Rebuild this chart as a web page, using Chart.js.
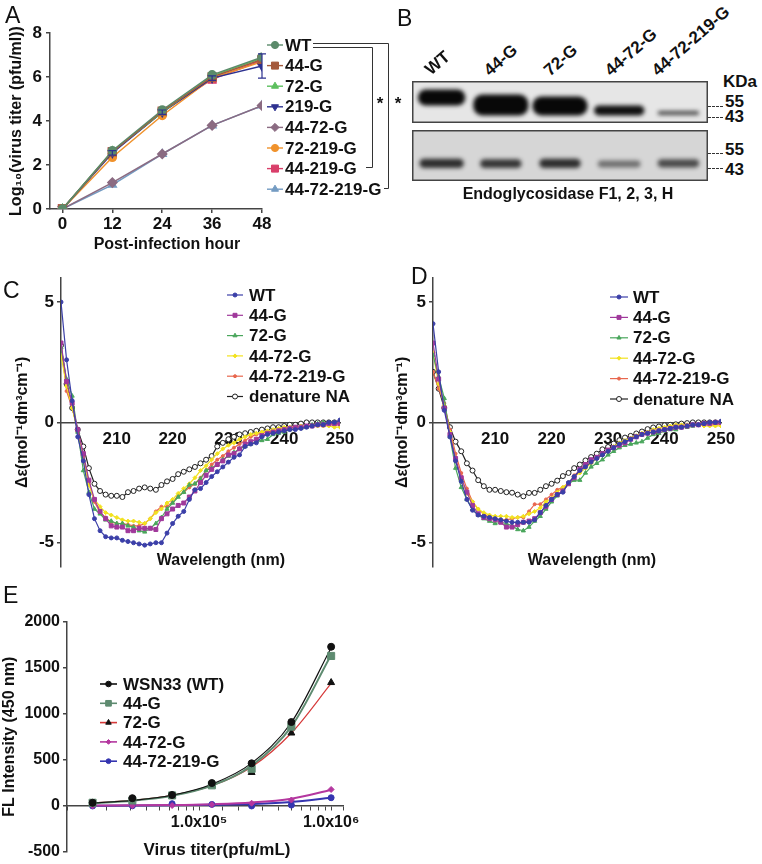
<!DOCTYPE html>
<html>
<head>
<meta charset="utf-8">
<title>NA glycosylation panels</title>
<script src="https://cdn.jsdelivr.net/npm/chart.js@4.4.1/dist/chart.umd.min.js"></script>
<style>
  body { margin: 0; width: 762px; height: 864px; position: relative; overflow: hidden; background: #fff;
         font-family: 'Liberation Sans', Arial, sans-serif; color: #111; }
  canvas { position: absolute; }
  .lbl { position: absolute; white-space: nowrap; }
  .letter { font-size: 23px; line-height: 23px; font-weight: normal; }
  .lane { font-size: 17px; line-height: 17px; font-weight: bold; transform-origin: 0 100%; transform: rotate(-41deg); }
  .kda { font-size: 17px; line-height: 17px; font-weight: bold; }
  .dash { position: absolute; width: 15px; border-top: 1px dashed #333; }
</style>
</head>
<body>

<canvas id="chartA" width="410" height="260" style="left:0;top:0"></canvas>
<canvas id="blotTop" width="296" height="42" style="left:412px;top:81px"></canvas>
<canvas id="blotBottom" width="296" height="51" style="left:412px;top:130px"></canvas>
<canvas id="chartC" width="380" height="330" style="left:0;top:250px"></canvas>
<canvas id="chartD" width="382" height="330" style="left:380px;top:250px"></canvas>
<canvas id="chartE" width="380" height="294" style="left:0;top:570px"></canvas>

<div class="lbl letter" style="left:5px;top:4px">A</div>
<div class="lbl letter" style="left:397px;top:7px">B</div>
<div class="lbl letter" style="left:3px;top:279px">C</div>
<div class="lbl letter" style="left:411px;top:265px">D</div>
<div class="lbl letter" style="left:3px;top:584px">E</div>

<div class="lbl lane" style="left:433px;top:61px">WT</div>
<div class="lbl lane" style="left:492px;top:62px">44-G</div>
<div class="lbl lane" style="left:552px;top:62px">72-G</div>
<div class="lbl lane" style="left:613px;top:62px">44-72-G</div>
<div class="lbl lane" style="left:660px;top:62px">44-72-219-G</div>

<div class="lbl kda" style="left:723px;top:73px">KDa</div>
<div class="lbl kda" style="left:725px;top:93px">55</div>
<div class="lbl kda" style="left:725px;top:108px">43</div>
<div class="lbl kda" style="left:725px;top:141px">55</div>
<div class="lbl kda" style="left:725px;top:161px">43</div>
<div class="dash" style="left:708px;top:106px"></div>
<div class="dash" style="left:708px;top:117px"></div>
<div class="dash" style="left:708px;top:153px"></div>
<div class="dash" style="left:708px;top:168px"></div>
<div class="lbl" style="left:440px;top:186px;width:256px;text-align:center;font-size:16px;line-height:16px;font-weight:bold">Endoglycosidase F1, 2, 3, H</div>

<script>
// ---------- A: growth curves ----------
const hoursA = [0, 12, 24, 36, 48];
const strainsA = ['WT', '44-G', '72-G', '219-G', '44-72-G', '72-219-G', '44-219-G', '44-72-219-G'];
const titerWT       = [0, 2.65, 4.50, 6.10, 6.90];
const titer44G      = [0, 2.60, 4.45, 6.00, 6.80];
const titer72G      = [0, 2.62, 4.40, 6.05, 6.85];
const titer219G     = [0, 2.55, 4.40, 5.95, 6.50];
const titer4472G    = [0, 1.20, 2.50, 3.80, 4.70];
const titer72219G   = [0, 2.35, 4.25, 5.95, 6.70];
const titer44219G   = [0, 2.60, 4.40, 5.90, 6.75];
const titer4472219G = [0, 1.10, 2.50, 3.80, 4.70];
const err219G       = [0, 0.10, 0.10, 0.10, 0.55];
const ticksAx = [0, 12, 24, 36, 48];
const ticksAy = [0, 2, 4, 6, 8];

// ---------- B: blot bands (position in kDa) ----------
const laneNames = ['WT', '44-G', '72-G', '44-72-G', '44-72-219-G'];
const bandLow      = [55.5, 45.5, 45.5, 45.5, 46];
const bandHigh     = [71.5, 66.5, 64.5, 55.5, 50];
const bandDensity  = [1, 1, 1, 0.97, 0.72];
const deglyLow     = [43, 43, 43, 43.5, 43.5];
const deglyHigh    = [50.5, 50, 50.5, 49, 50];
const deglyDensity = [0.82, 0.78, 0.82, 0.5, 0.68];

// ---------- C / D: CD spectra ----------
const cdNames = ['WT', '44-G', '72-G', '44-72-G', '44-72-219-G', 'denature NA'];
const wavelengthC = [200,201,202,203,204,205,206,207,208,209,210,211,212,213,214,215,216,217,218,219,220,221,222,223,224,225,226,227,228,229,230,231,232,233,234,235,236,237,238,239,240,241,242,243,244,245,246,247,248,249,250];
const cdC_WT = [5.0,2.6,0.9,-0.6,-1.6,-3.0,-4.0,-4.5,-4.75,-4.8,-4.8,-4.9,-4.95,-5.0,-5.05,-5.1,-5.05,-5.0,-5.0,-4.6,-4.2,-3.9,-3.7,-3.2,-2.8,-2.75,-2.5,-2.25,-2.05,-1.85,-1.65,-1.45,-1.35,-1.0,-0.9,-0.85,-0.6,-0.5,-0.45,-0.4,-0.35,-0.3,-0.3,-0.25,-0.2,-0.15,-0.1,-0.1,0,0,0.1];
const cdC_44G = [3.3,1.7,0.8,-0.3,-1.3,-2.4,-3.2,-3.7,-4.0,-4.3,-4.35,-4.35,-4.5,-4.5,-4.4,-4.4,-4.4,-4.45,-4.0,-3.8,-3.6,-3.45,-3.35,-3.1,-2.85,-2.5,-2.2,-1.95,-1.75,-1.6,-1.35,-1.3,-1.1,-0.9,-0.8,-0.7,-0.55,-0.45,-0.4,-0.35,-0.3,-0.25,-0.2,-0.2,-0.15,-0.15,-0.1,-0.1,-0.05,-0.05,-0.05];
const cdC_72G = [3.1,1.8,1.1,-0.4,-2.0,-2.9,-3.6,-3.8,-4.05,-4.1,-4.2,-4.2,-4.3,-4.35,-4.5,-4.55,-4.4,-4.2,-3.95,-3.6,-3.35,-3.1,-2.9,-2.6,-2.55,-2.35,-2.0,-1.9,-1.75,-1.55,-1.4,-1.25,-1.1,-1.0,-0.9,-0.8,-0.75,-0.7,-0.5,-0.45,-0.4,-0.3,-0.25,-0.25,-0.2,-0.1,-0.05,0,0,0,0];
const cdC_4472G = [2.8,1.5,0.6,-0.4,-1.6,-2.6,-3.2,-3.5,-3.75,-3.85,-3.95,-4.05,-4.1,-4.1,-4.15,-4.2,-4.0,-3.75,-3.6,-3.35,-3.2,-2.95,-2.75,-2.55,-2.3,-2.0,-1.8,-1.55,-1.3,-1.1,-0.95,-0.85,-0.7,-0.6,-0.5,-0.45,-0.4,-0.35,-0.3,-0.25,-0.2,-0.2,-0.2,-0.15,-0.15,-0.15,-0.15,-0.15,-0.15,-0.2,-0.2];
const cdC_4472219G = [3.3,1.3,0.6,-0.3,-1.4,-2.5,-3.3,-3.75,-3.95,-4.15,-4.2,-4.2,-4.25,-4.3,-4.3,-4.2,-4.0,-3.7,-3.5,-3.5,-3.3,-3.05,-2.9,-2.7,-2.55,-2.3,-2.0,-1.75,-1.55,-1.4,-1.2,-1.05,-0.9,-0.75,-0.6,-0.5,-0.45,-0.4,-0.35,-0.3,-0.25,-0.2,-0.2,-0.15,-0.15,-0.1,-0.1,-0.1,-0.1,-0.1,-0.1];
const cdC_denat = [3.2,1.6,0.6,-0.3,-1.0,-1.9,-2.55,-2.85,-3.0,-3.05,-3.05,-3.1,-2.9,-2.85,-2.75,-2.7,-2.75,-2.8,-2.6,-2.45,-2.35,-2.15,-2.05,-1.95,-1.85,-1.7,-1.55,-1.4,-1.0,-0.85,-0.7,-0.6,-0.5,-0.45,-0.4,-0.35,-0.3,-0.25,-0.2,-0.2,-0.15,-0.1,-0.1,-0.05,0,0,0,0,0,0,0];

const wavelengthD = [199,200,201,202,203,204,205,206,207,208,209,210,211,212,213,214,215,216,217,218,219,220,221,222,223,224,225,226,227,228,229,230,231,232,233,234,235,236,237,238,239,240,241,242,243,244,245,246,247,248,249,250];
const cdD_WT = [4.1,2.1,0.5,-0.6,-1.6,-2.45,-3.2,-3.65,-3.85,-3.9,-3.95,-4.0,-4.05,-4.1,-4.15,-4.15,-4.15,-4.15,-4.05,-3.75,-3.45,-3.2,-3.0,-2.9,-2.5,-2.25,-2.0,-1.85,-1.65,-1.5,-1.35,-1.2,-1.05,-0.9,-0.8,-0.7,-0.6,-0.5,-0.45,-0.4,-0.35,-0.3,-0.25,-0.2,-0.2,-0.15,-0.1,-0.1,-0.05,0,0,0.05];
const cdD_44G = [3.3,1.8,0.6,-0.5,-1.5,-2.3,-2.9,-3.45,-3.8,-3.95,-4.0,-4.05,-4.15,-4.35,-4.35,-4.25,-4.15,-4.1,-4.0,-3.75,-3.5,-3.2,-3.0,-2.85,-2.55,-2.3,-1.95,-1.75,-1.55,-1.45,-1.3,-1.15,-1.05,-0.95,-0.85,-0.7,-0.6,-0.5,-0.45,-0.4,-0.35,-0.3,-0.25,-0.2,-0.2,-0.15,-0.1,-0.1,-0.05,-0.05,0,0];
const cdD_72G = [2.8,1.9,1.0,-0.6,-1.9,-2.7,-3.2,-3.6,-3.85,-4.0,-4.1,-4.2,-4.15,-4.2,-4.3,-4.45,-4.5,-4.35,-4.1,-3.9,-3.6,-3.3,-3.05,-2.85,-2.55,-2.4,-2.4,-2.1,-1.85,-1.7,-1.55,-1.35,-1.2,-1.05,-0.95,-0.9,-0.85,-0.8,-0.65,-0.5,-0.45,-0.35,-0.3,-0.3,-0.2,-0.2,-0.15,-0.1,-0.05,-0.05,0,0];
const cdD_4472G = [2.9,1.6,0.7,-0.4,-1.5,-2.4,-2.95,-3.3,-3.6,-3.75,-3.85,-3.9,-3.9,-3.9,-3.95,-3.95,-3.9,-3.8,-3.7,-3.55,-3.3,-3.15,-2.9,-2.7,-2.5,-2.25,-2.1,-1.9,-1.7,-1.5,-1.35,-1.2,-1.0,-0.85,-0.75,-0.65,-0.55,-0.45,-0.4,-0.3,-0.25,-0.2,-0.15,-0.1,-0.1,-0.1,-0.1,-0.1,-0.15,-0.15,-0.15,-0.15];
const cdD_4472219G = [2.1,1.4,0.8,-0.3,-1.3,-2.1,-2.75,-3.3,-3.6,-3.8,-3.95,-4.0,-4.05,-4.05,-4.0,-3.95,-3.95,-3.7,-3.4,-3.4,-3.2,-3.0,-2.8,-2.7,-2.55,-2.2,-2.0,-1.8,-1.65,-1.5,-1.35,-1.2,-1.05,-0.9,-0.8,-0.7,-0.6,-0.5,-0.45,-0.4,-0.35,-0.3,-0.25,-0.2,-0.15,-0.15,-0.1,-0.1,-0.1,-0.1,-0.1,-0.1];
const cdD_denat = [2.1,1.4,0.6,-0.2,-0.8,-1.2,-1.7,-2.0,-2.4,-2.65,-2.8,-2.8,-2.85,-2.9,-2.92,-3.0,-3.07,-2.93,-2.93,-2.8,-2.65,-2.55,-2.42,-2.23,-2.1,-1.9,-1.75,-1.58,-1.44,-1.3,-1.12,-1.02,-0.88,-0.74,-0.63,-0.56,-0.46,-0.38,-0.28,-0.21,-0.17,-0.12,-0.1,-0.08,-0.05,-0.03,0,0,0,0,0,0];
const ticksCDx = [210, 220, 230, 240, 250];
const ticksCDy = [-5, 0, 5];

// ---------- E: FL intensity vs titer ----------
const titerE = [15625, 31250, 62500, 125000, 250000, 500000, 1000000];
const strainsE = ['WSN33 (WT)', '44-G', '72-G', '44-72-G', '44-72-219-G'];
const flWT       = [30, 80, 115, 245, 460, 910, 1730];
const fl44G      = [30, 55, 110, 220, 400, 860, 1630];
const fl72G      = [22, 70, 110, 225, 360, 790, 1340];
const fl4472G    = [-5, -3, 0, 10, 25, 60, 175];
const fl4472219G = [-5, -3, 20, 12, -5, 5, 85];
const fitWT       = [28, 55, 112, 232, 462, 905, 1720];
const fit44G      = [25, 52, 106, 218, 435, 860, 1640];
const fit72G      = [28, 56, 110, 215, 420, 790, 1330];
const fit4472G    = [0, 2, 6, 15, 33, 75, 170];
const fit4472219G = [-2, 0, 3, 8, 17, 38, 85];
const ticksEy = [-500, 0, 500, 1000, 1500, 2000];
const ticksExLabels = { 100000: '1.0x10⁵', 1000000: '1.0x10⁶' };

// ---------- styling ----------
const FONT = "'Liberation Sans', Arial, sans-serif";
const AXIS = '#444';
Chart.defaults.font.family = FONT;
Chart.defaults.font.weight = 'bold';
Chart.defaults.color = '#111';
Chart.defaults.animation = false;
Chart.defaults.responsive = false;
Chart.defaults.plugins.legend.display = false;
Chart.defaults.plugins.tooltip.enabled = false;

function drawShape(ctx, shape, x, y, r, fill, stroke, rot) {
  ctx.save();
  ctx.translate(x, y);
  if (rot) ctx.rotate(rot * Math.PI / 180);
  ctx.beginPath();
  if (shape === 'circle') ctx.arc(0, 0, r, 0, Math.PI * 2);
  else if (shape === 'rect') { const s = r * Math.SQRT1_2; ctx.rect(-s, -s, 2 * s, 2 * s); }
  else if (shape === 'rectRot') { ctx.moveTo(0, -r); ctx.lineTo(r, 0); ctx.lineTo(0, r); ctx.lineTo(-r, 0); ctx.closePath(); }
  else if (shape === 'triangle') { ctx.moveTo(0, -r); ctx.lineTo(r * 0.866, r * 0.5); ctx.lineTo(-r * 0.866, r * 0.5); ctx.closePath(); }
  ctx.fillStyle = fill; ctx.fill();
  ctx.lineWidth = 1; ctx.strokeStyle = stroke; ctx.stroke();
  ctx.restore();
}

function drawLegend(ctx, rows, g) {
  rows.forEach((row, i) => {
    const yy = g.y0 + g.dy * i;
    ctx.save();
    ctx.strokeStyle = row.line; ctx.lineWidth = row.lw || 1.4;
    ctx.beginPath(); ctx.moveTo(g.x0, yy); ctx.lineTo(g.x1, yy); ctx.stroke();
    drawShape(ctx, row.shape, g.xm, yy, row.r, row.fill, row.stroke, row.rot);
    ctx.fillStyle = '#111'; ctx.font = 'bold 17px ' + FONT;
    ctx.textBaseline = 'middle'; ctx.textAlign = 'left';
    ctx.fillText(row.name, g.xt, yy + 1);
    ctx.restore();
  });
}

function drawText(ctx, text, x, y, font) {
  ctx.save();
  ctx.fillStyle = '#111'; ctx.font = font;
  ctx.textAlign = 'center'; ctx.textBaseline = 'middle';
  ctx.fillText(text, x, y);
  ctx.restore();
}

const fixedTicks = list => s => { s.ticks = list.map(v => ({ value: v })); };

// ---------- Panel A ----------
const titersA = [titerWT, titer44G, titer72G, titer219G, titer4472G, titer72219G, titer44219G, titer4472219G];
const colorsA = ['#5b8a6a', '#a45a3c', '#5cbf5e', '#2d318f', '#8b6b82', '#f0922c', '#d93f6a', '#739bc2'];
const shapesA = ['circle', 'rect', 'triangle', 'triangle', 'rectRot', 'circle', 'rect', 'triangle'];
const rotA = [0, 0, 0, 180, 0, 0, 0, 0];
const radiusA = [4, 5.5, 4.5, 4.5, 4.5, 4, 5.5, 4.5];

const panelAExtras = {
  id: 'panelAExtras',
  afterDatasetsDraw(chart) {
    const { ctx, scales: { x, y } } = chart;
    ctx.save();
    ctx.strokeStyle = colorsA[3]; ctx.lineWidth = 1.2;
    hoursA.forEach((h, j) => {
      const e = err219G[j];
      if (!e) return;
      const px = x.getPixelForValue(h);
      const y1 = y.getPixelForValue(titer219G[j] - e), y2 = y.getPixelForValue(titer219G[j] + e);
      ctx.beginPath();
      ctx.moveTo(px, y1); ctx.lineTo(px, y2);
      ctx.moveTo(px - 4, y1); ctx.lineTo(px + 4, y1);
      ctx.moveTo(px - 4, y2); ctx.lineTo(px + 4, y2);
      ctx.stroke();
    });
    ctx.restore();
  },
  afterDraw(chart) {
    const ctx = chart.ctx;
    drawLegend(ctx, strainsA.map((n, i) => ({
      name: n, line: colorsA[i], shape: shapesA[i], r: radiusA[i] * 0.9,
      fill: colorsA[i], stroke: colorsA[i], rot: rotA[i]
    })), { x0: 267, x1: 283, xm: 275, xt: 285, y0: 45, dy: 20.6 });
    // significance brackets
    ctx.save();
    ctx.strokeStyle = '#333'; ctx.lineWidth = 1;
    ctx.beginPath();
    ctx.moveTo(313, 47.5); ctx.lineTo(372.5, 47.5); ctx.lineTo(372.5, 167.5); ctx.lineTo(366, 167.5);
    ctx.moveTo(313, 43.5); ctx.lineTo(388.5, 43.5); ctx.lineTo(388.5, 188.5); ctx.lineTo(384, 188.5);
    ctx.stroke();
    ctx.restore();
    drawText(ctx, '*', 380, 104, 'bold 17px ' + FONT);
    drawText(ctx, '*', 398, 104, 'bold 17px ' + FONT);
    drawText(ctx, 'Post-infection hour', 167, 245, 'bold 16px ' + FONT);
  }
};

new Chart(document.getElementById('chartA'), {
  type: 'line',
  data: {
    datasets: strainsA.map((name, i) => ({
      label: name,
      data: hoursA.map((h, j) => ({ x: h, y: titersA[i][j] })),
      borderColor: colorsA[i], backgroundColor: colorsA[i],
      pointStyle: shapesA[i], pointRotation: rotA[i], pointRadius: radiusA[i],
      borderWidth: 1.5
    }))
  },
  options: {
    layout: { padding: { top: 33, right: 148, bottom: 0, left: 0 } },
    scales: {
      x: {
        type: 'linear', min: -3, max: 48,
        afterBuildTicks: fixedTicks(ticksAx),
        afterFit: s => { s.height = 51; },
        border: { color: AXIS, width: 1.5 },
        grid: { drawOnChartArea: false, color: AXIS, lineWidth: 1.5, tickLength: 4 },
        ticks: { font: { size: 17, weight: 'bold' }, padding: 1, maxRotation: 0, autoSkip: false }
      },
      y: {
        min: 0, max: 8,
        afterBuildTicks: fixedTicks(ticksAy),
        afterFit: s => { s.width = 50; },
        border: { color: AXIS, width: 1.5 },
        grid: { drawOnChartArea: false, color: AXIS, lineWidth: 1.5, tickLength: 4 },
        ticks: { font: { size: 17, weight: 'bold' }, padding: 4 },
        title: { display: true, text: 'Log₁₀(virus titer (pfu/ml))', font: { size: 16, weight: 'bold' }, padding: { top: 7, bottom: 0 } }
      }
    }
  },
  plugins: [panelAExtras]
});

// ---------- Panel B ----------
const bandWidthTop = [0.8, 0.93, 0.93, 0.85, 0.7];
const bandWidthBottom = [0.75, 0.7, 0.7, 0.72, 0.7];

function blotChart(id, low, high, density, widths, yMin, yMax, bg, radius) {
  const blur = {
    id: 'blur',
    beforeDraw(chart) {
      const { ctx, width, height } = chart;
      ctx.save(); ctx.fillStyle = bg; ctx.fillRect(0, 0, width, height); ctx.restore();
    },
    beforeDatasetsDraw(chart) { chart.ctx.save(); chart.ctx.filter = 'blur(2px)'; },
    afterDatasetsDraw(chart) { chart.ctx.restore(); },
    afterDraw(chart) {
      const { ctx, width, height } = chart;
      ctx.save(); ctx.strokeStyle = '#444'; ctx.lineWidth = 1.5;
      ctx.strokeRect(0.75, 0.75, width - 1.5, height - 1.5); ctx.restore();
    }
  };
  new Chart(document.getElementById(id), {
    type: 'bar',
    data: {
      labels: laneNames,
      datasets: laneNames.map((n, i) => ({
        data: laneNames.map((_, j) => (j === i ? [low[i], high[i]] : null)),
        backgroundColor: 'rgba(8,8,8,' + density[i] + ')',
        barPercentage: widths[i], categoryPercentage: 1, grouped: false,
        borderRadius: radius, borderSkipped: false
      }))
    },
    options: {
      layout: { padding: 0 },
      scales: {
        x: { display: false },
        y: { display: false, min: yMin, max: yMax }
      }
    },
    plugins: [blur]
  });
}
blotChart('blotTop', bandLow, bandHigh, bandDensity, bandWidthTop, 38, 80, '#e6e6e6', 9);
blotChart('blotBottom', deglyLow, deglyHigh, deglyDensity, bandWidthBottom, 32.6, 73.4, '#d6d6d6', 5);

// ---------- Panels C and D ----------
const cdColors = ['#3b3fa8', '#a0399b', '#4aa65c', '#f2e21f', '#e8674e', '#222222'];
const cdFill   = ['#3b3fa8', '#a0399b', '#4aa65c', '#f2e21f', '#e8674e', '#ffffff'];
const cdShapes = ['circle', 'rect', 'triangle', 'rectRot', 'circle', 'circle'];
const cdRadius = [2, 2.8, 2.4, 2, 1.5, 2.5];

function cdChart(id, wl, series, xMin, leftW, padRight, legendGeom, titleX) {
  const extras = {
    id: 'cdExtras',
    afterDraw(chart) {
      drawLegend(chart.ctx, cdNames.map((n, i) => ({
        name: n, line: cdColors[i], shape: cdShapes[i], r: cdRadius[i],
        fill: cdFill[i], stroke: cdColors[i], lw: 1.2
      })), legendGeom);
      drawText(chart.ctx, 'Wavelength (nm)', titleX, 311, 'bold 16px ' + FONT);
    }
  };
  new Chart(document.getElementById(id), {
    type: 'line',
    data: {
      datasets: series.map((vals, i) => ({
        label: cdNames[i],
        data: wl.map((w, j) => ({ x: w, y: vals[j] })),
        borderColor: cdColors[i], backgroundColor: cdFill[i], pointBorderColor: cdColors[i],
        pointStyle: cdShapes[i], pointRadius: cdRadius[i], pointBorderWidth: 1, borderWidth: 1.2
      }))
    },
    options: {
      layout: { padding: { top: 28, right: padRight, bottom: 13, left: 0 } },
      scales: {
        x: {
          type: 'linear', min: xMin, max: 250, position: { y: 0 },
          afterFit: s => { s.height = 0; },
          afterBuildTicks: fixedTicks(ticksCDx),
          border: { color: AXIS, width: 1.5 },
          grid: { drawOnChartArea: false, drawTicks: false },
          ticks: { font: { size: 17, weight: 'bold' }, padding: 7, maxRotation: 0, autoSkip: false }
        },
        y: {
          min: -6, max: 6,
          afterBuildTicks: fixedTicks(ticksCDy),
          afterFit: s => { s.width = leftW; },
          border: { color: AXIS, width: 1.5 },
          grid: { drawOnChartArea: false, color: AXIS, lineWidth: 1.5, tickLength: 4 },
          ticks: { font: { size: 17, weight: 'bold' }, padding: 3 },
          title: { display: true, text: 'Δε(mol⁻¹dm³cm⁻¹)', font: { size: 16, weight: 'bold' }, padding: { top: 13, bottom: 0 } }
        }
      }
    },
    plugins: [extras]
  });
}
cdChart('chartC', wavelengthC, [cdC_WT, cdC_44G, cdC_72G, cdC_4472G, cdC_4472219G, cdC_denat],
        200, 61, 40, { x0: 227, x1: 243, xm: 235, xt: 249, y0: 45, dy: 20.3 }, 221);
cdChart('chartD', wavelengthD, [cdD_WT, cdD_44G, cdD_72G, cdD_4472G, cdD_4472219G, cdD_denat],
        199, 53, 41, { x0: 230, x1: 248, xm: 239, xt: 253, y0: 47, dy: 20.4 }, 212);

// ---------- Panel E ----------
const pointsE = [flWT, fl44G, fl72G, fl4472G, fl4472219G];
const fitsE = [fitWT, fit44G, fit72G, fit4472G, fit4472219G];
const lineColorsE = ['#111111', '#5e8b70', '#d63a3a', '#b4379f', '#3535b0'];
const markColorsE = ['#111111', '#5e8b70', '#111111', '#b4379f', '#3535b0'];
const shapesE = ['circle', 'rect', 'triangle', 'rectRot', 'circle'];
const radiusE = [3.5, 5, 4, 3, 3];
const lineWidthE = [1.2, 2, 1.2, 2, 2];

const datasetsE = [];
strainsE.forEach((name, i) => {
  datasetsE.push({
    label: name + ' fit',
    data: titerE.map((t, j) => ({ x: t, y: fitsE[i][j] })),
    borderColor: lineColorsE[i], borderWidth: lineWidthE[i], pointRadius: 0,
    cubicInterpolationMode: 'monotone', order: 2
  });
  datasetsE.push({
    label: name,
    data: titerE.map((t, j) => ({ x: t, y: pointsE[i][j] })),
    showLine: false, pointStyle: shapesE[i], pointRadius: radiusE[i],
    backgroundColor: markColorsE[i], borderColor: markColorsE[i], order: 1
  });
});

const panelEExtras = {
  id: 'panelEExtras',
  afterDraw(chart) {
    drawLegend(chart.ctx, strainsE.map((n, i) => ({
      name: n, line: lineColorsE[i], shape: shapesE[i], r: radiusE[i] * 0.8,
      fill: markColorsE[i], stroke: markColorsE[i], lw: 1.6
    })), { x0: 100, x1: 117, xm: 108.5, xt: 123, y0: 114, dy: 19.3 });
    drawText(chart.ctx, 'Virus titer(pfu/mL)', 217, 280, 'bold 17px ' + FONT);
  }
};

new Chart(document.getElementById('chartE'), {
  type: 'line',
  data: { datasets: datasetsE },
  options: {
    layout: { padding: { top: 52, right: 37, bottom: 12, left: 0 } },
    scales: {
      x: {
        type: 'logarithmic', min: 10000, max: 1230000, position: { y: 0 },
        afterFit: s => { s.height = 0; },
        border: { color: AXIS, width: 1.5 },
        grid: { drawOnChartArea: false, color: AXIS, lineWidth: 1, tickLength: 4 },
        ticks: {
          font: { size: 16, weight: 'bold' }, padding: 3, maxRotation: 0, autoSkip: false,
          callback: v => {
            for (const k in ticksExLabels) if (Math.abs(v - Number(k)) < 1) return ticksExLabels[k];
            return '';
          }
        }
      },
      y: {
        min: -500, max: 2000,
        afterBuildTicks: fixedTicks(ticksEy),
        afterFit: s => { s.width = 67; },
        border: { color: AXIS, width: 1.5 },
        grid: { drawOnChartArea: false, color: AXIS, lineWidth: 1.5, tickLength: 4 },
        ticks: { font: { size: 16, weight: 'bold' }, padding: 3, callback: v => String(v) },
        title: { display: true, text: 'FL Intensity (450 nm)',
                 font: { family: "'Liberation Sans Narrow', " + FONT, size: 16, weight: 'bold' },
                 padding: { top: 0, bottom: 0 } }
      }
    }
  },
  plugins: [panelEExtras]
});
</script>
</body>
</html>
